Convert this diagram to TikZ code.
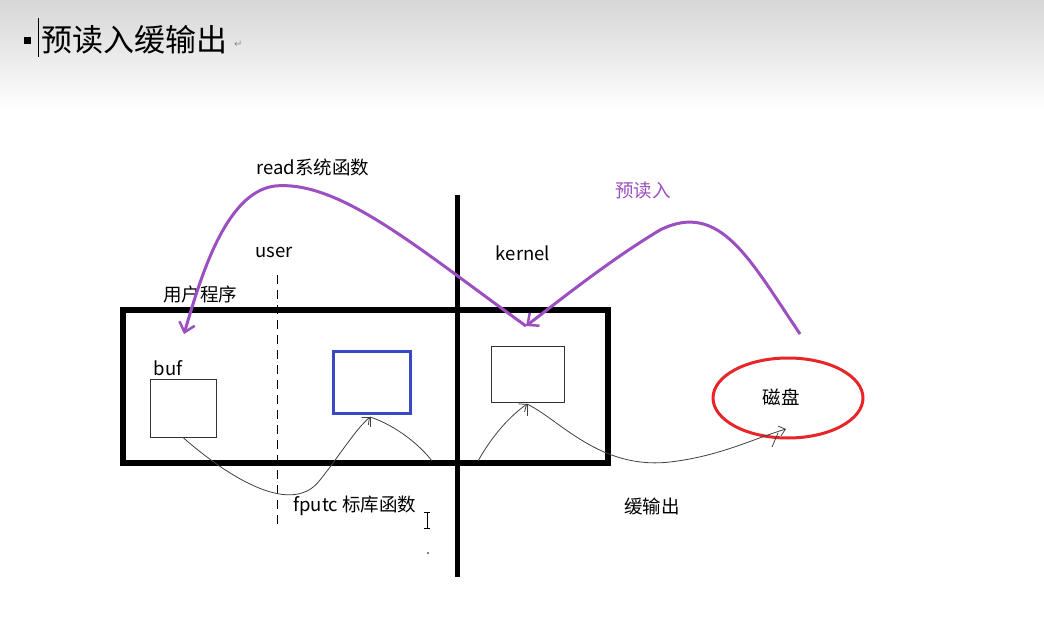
\documentclass[tikz,border=0pt]{standalone}
\usepackage{fontspec}
\setmainfont{Noto Sans CJK SC}
\newfontfamily\djv{DejaVu Sans}
\usetikzlibrary{arrows.meta}
\definecolor{pur}{HTML}{9B4FC0}
\definecolor{blu}{HTML}{3A48C8}
\definecolor{redc}{HTML}{E8262A}
\tikzset{
  lbl/.style={font=\fontsize{18.5pt}{20pt}\selectfont, inner sep=0pt},
  thinbox/.style={draw=black!80, line width=1pt},
  parr/.style={draw=pur, line width=3pt, -{Straight Barb[length=9pt,width=16pt,line width=2.5pt]}},
  karr/.style={draw=black!75, line width=0.8pt},
  karrh/.style={karr, -{Straight Barb[length=6pt,width=10pt]}}
}
\begin{document}
\begin{tikzpicture}[x=1pt,y=-1pt]
\useasboundingbox (0,0) rectangle (1044,636);
\shade[top color=black!16, bottom color=white] (0,0) rectangle (1044,110);
\fill (24,37) rectangle (31,44);
\draw[line width=0.6pt] (38,18) -- (38,57);
\node[anchor=west, inner sep=0pt, font=\fontsize{31pt}{33pt}\selectfont] (title) at (41,40) {预读入缓输出};
\node[anchor=west, inner sep=0pt, text=black!45, font=\djv\fontsize{10pt}{12pt}\selectfont] (ret) at (234,44) {↵};
% frames
\draw[line width=6pt] (123,310) rectangle (608,463);
\draw[line width=5pt] (457,195) coordinate (vt) -- (457,577) coordinate (vb);
\draw[dashed, dash pattern=on 9pt off 6pt, line width=1pt] (277,275) -- (277,525);
% boxes
\node[thinbox, minimum width=66pt, minimum height=58pt, inner sep=0pt] (buf) at (183,408) {};
\node[draw=blu, line width=3pt, minimum width=77pt, minimum height=62pt, inner sep=0pt] (std) at (372,382) {};
\node[thinbox, minimum width=73pt, minimum height=56pt, inner sep=0pt] (kb) at (528,374) {};
\draw[redc, line width=3pt] (788,398) ellipse (75 and 40);
\node[lbl] (disk) at (781,397) {磁盘};
% labels
\node[lbl] (buft) at (168,368) {buf};
\node[lbl] (readt) at (313,167) {read系统函数};
\node[lbl] (usert) at (274,252) {user};
\node[lbl] (kernt) at (523,253) {kernel};
\node[lbl] (appt) at (200,294) {用户程序};
\node[lbl, text=pur] (pret) at (643,191) {预读入};
\node[lbl] (fputt) at (355,506) {fputc 标库函数};
\node[lbl] (outt) at (652,506) {缓输出};
% purple arrows
\coordinate (k1) at (526,326);
\coordinate (b1) at (184,334);
\coordinate (d1) at (800,334);
\draw[parr] (k1) .. controls (420,250) and (340,180) .. (275,186) .. controls (225,192) and (200,280) .. (b1);
\draw[parr] (d1) .. controls (750,260) and (720,200) .. (660,230) .. controls (610,260) and (560,300) .. (k1);
% thin black arrows
\coordinate (sb) at (370,417);
\coordinate (kbb) at (527,404);
\coordinate (e1) at (432,461);
\coordinate (e2) at (478,461);
\coordinate (dk) at (786,429);
\draw[karrh] (buf.south) .. controls (220,470) and (290,520) .. (320,480) .. controls (340,455) and (355,430) .. (sb);
\draw[karr] (sb) .. controls (395,425) and (420,445) .. (e1);
\draw[karr] (sb) -- ++(0,10);
\draw[karrh] (e2) .. controls (490,440) and (505,420) .. (kbb);
\draw[karr] (kbb) -- ++(0,12);
\draw[karrh] (kbb) .. controls (560,420) and (600,470) .. (670,462) .. controls (720,456) and (750,440) .. (dk);
\draw[karr] (dk) ++(-8,4) -- ++(-6,14);
% cursor
\draw[line width=0.6pt] (427,512) -- (427,528) (424,512) -- (430,512) (424,528) -- (430,528);
\fill (428,553) circle (0.8);
\end{tikzpicture}
\end{document}
